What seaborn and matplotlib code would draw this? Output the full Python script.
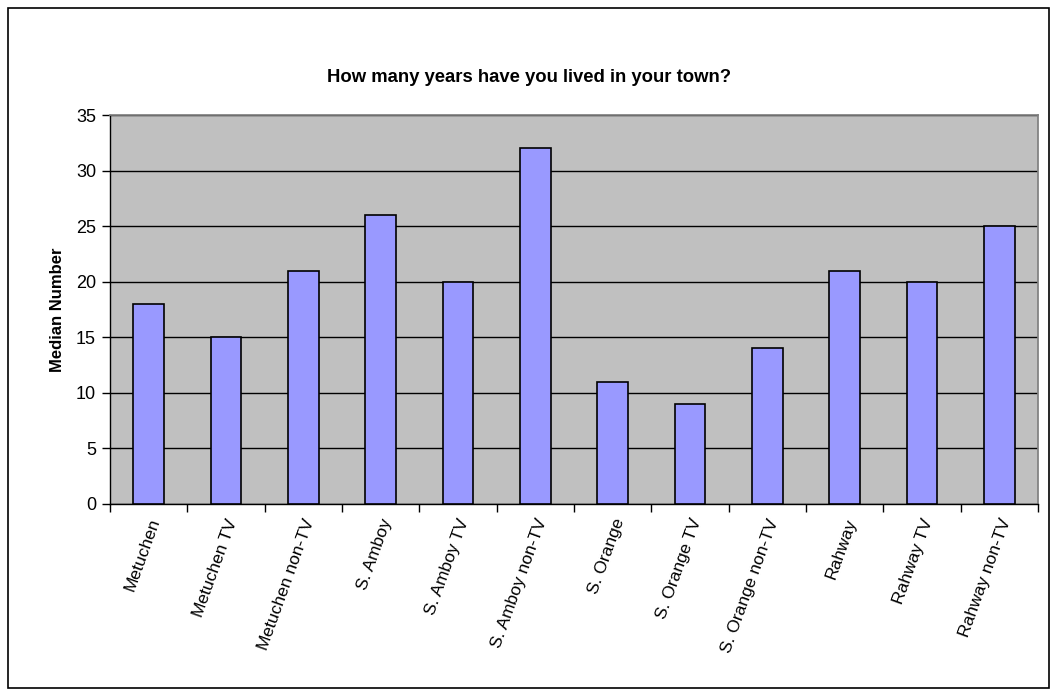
import matplotlib
matplotlib.use('Agg')
import matplotlib.pyplot as plt
import seaborn as sns
import pandas as pd
from matplotlib.patches import Rectangle

# ── Data ────────────────────────────────────────────────────────────────────
groups = ['Metuchen', 'Metuchen TV', 'Metuchen non-TV',
          'S. Amboy', 'S. Amboy TV', 'S. Amboy non-TV',
          'S. Orange', 'S. Orange TV', 'S. Orange non-TV',
          'Rahway', 'Rahway TV', 'Rahway non-TV']
median_years = [18, 15, 21, 26, 20, 32, 11, 9, 14, 21, 20, 25]
y_ticks = [0, 5, 10, 15, 20, 25, 30, 35]
# ────────────────────────────────────────────────────────────────────────────

df = pd.DataFrame({'group': groups, 'years': median_years})

sns.set_theme(style='white')
plt.rcParams['font.family'] = ['Liberation Sans', 'DejaVu Sans']
plt.rcParams['text.color'] = 'black'
plt.rcParams['axes.labelcolor'] = 'black'
plt.rcParams['xtick.color'] = 'black'
plt.rcParams['ytick.color'] = 'black'

fig = plt.figure(figsize=(10.57, 6.96), dpi=100)
ax = fig.add_axes([110 / 1057, 1 - 504 / 696, 928 / 1057, 389 / 696])
ax.set_facecolor('#C0C0C0')

sns.barplot(data=df, x='group', y='years', color='#9999FF', width=0.4,
            edgecolor='black', linewidth=1.2, saturation=1, ax=ax, zorder=3)

ax.set_ylim(0, 35)
ax.set_xlim(-0.5, len(groups) - 0.5)
ax.set_yticks(y_ticks)
ax.yaxis.grid(True, color='black', linewidth=1, zorder=0)
ax.set_axisbelow(True)

# category boundary ticks like Excel
ax.set_xticks([i - 0.5 for i in range(len(groups) + 1)], minor=True)
ax.set_xticks(range(len(groups)))
ax.tick_params(axis='x', which='major', bottom=True, length=0, pad=9, labelsize=12.5)
ax.tick_params(axis='x', which='minor', bottom=True, length=6, width=1, direction='out')
ax.tick_params(axis='y', left=True, length=6, width=1, direction='out', labelsize=13, pad=4)
ax.set_xticklabels(groups, rotation=70, ha='right', rotation_mode='anchor')

for side in ['left', 'bottom']:
    ax.spines[side].set_color('black')
    ax.spines[side].set_linewidth(1)
ax.spines['top'].set_color('#808080')
ax.spines['right'].set_color('#808080')

ax.set_xlabel('')
ax.set_ylabel('Median Number', fontsize=12, fontweight='bold', labelpad=8)

fig.text(529 / 1057, 1 - 77 / 696, 'How many years have you lived in your town?',
         ha='center', va='center', fontsize=13.3, fontweight='bold')

# outer chart border
fig.patches.append(Rectangle((8 / 1057, 8 / 696), 1041 / 1057, 680 / 696,
                             transform=fig.transFigure, fill=False,
                             edgecolor='black', linewidth=1.2))

fig.savefig('out.png', dpi=100)
